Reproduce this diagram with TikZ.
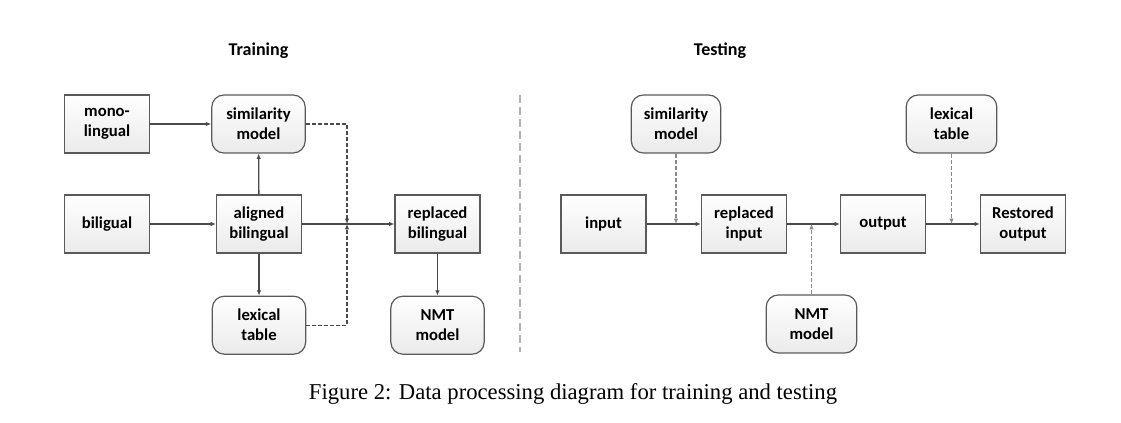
\documentclass[tikz,border=0pt]{standalone}
\usepackage{fontspec}
\setmainfont{Carlito}
\newfontfamily\captfont{Liberation Serif}
\usepackage{xcolor}
\definecolor{Frame}{HTML}{5a5a5a}
\definecolor{Wire}{HTML}{4a4a4a}
\definecolor{Hint}{HTML}{8a8a8a}
\colorlet{cFrame}{Frame}
\colorlet{cWire}{Wire}
\colorlet{cHint}{Hint}
\usepackage{tikz}
\usetikzlibrary{positioning, arrows.meta}
\tikzset{
	node distance = 31.5pt,
	line width = .75pt,
	>={Latex[length=4pt,width=3.4pt]},
	font = \bfseries\fontsize{12.5}{15}\selectfont,
	block/.style={
		draw=cFrame,
		line width=.9pt,
		top color=white,
		bottom color=gray!16,
		align=center,
		minimum width=63.75pt,
		minimum height=43.5pt,
		inner sep=1pt
	},
	store/.style={
		block,
		rounded corners=9pt,
		minimum width=70pt
	},
	heading/.style={
		font=\bfseries\fontsize{13.5}{16}\selectfont
	},
	flow/.style={
		->,
		draw=cWire,
		line width=1pt
	},
	hint/.style={
		->,
		draw=cWire,
		line width=.8pt,
		dash pattern=on 3pt off 1.5pt
	},
	soft hint/.style={
		hint,
		draw=cHint
	}
}

\begin{document}
\begin{tikzpicture}[x=.75pt, y=-.75pt]
\useasboundingbox (0,0) rectangle (1121,423);

% ---
% Training
% ---
\node[heading] (trainT) at (258.5,51) {Training};
\node[block] (mono) at (107,124) {mono-\\lingual};
\node[store] (simL) at (258.5,124) {similarity\\model};
\node[block] (bil) at (107,224) {biligual};
\node[block] (align) at (259,224) {aligned\\bilingual};
\node[block] (repl) at (437.5,224) {replaced\\bilingual};
\node[store, below=of align] (lexL) {lexical\\table};
\node[store, below=of repl] (nmtL) {NMT\\model};
\coordinate (jL) at (347,224);

\draw[flow] (mono) to (simL);
\draw[flow] (bil) to (align);
\draw[flow] (align) to (repl);
\draw[flow] (align) to (simL);
\draw[flow] (align) to (lexL);
\draw[flow] (repl) to (nmtL);
\draw[hint] (simL.east) -| (jL);
\draw[hint] (lexL.east) -| (jL);

% ---
% Divider
% ---
\draw[gray!60, line width=1.3pt, dash pattern=on 6pt off 3pt] (520,95) -- (520,352);

% ---
% Testing
% ---
\node[heading] (testT) at (720,51) {Testing};
\node[block] (input) at (603.5,224) {input};
\node[block] (replR) at (744,224) {replaced\\input};
\node[block] (output) at (883,224) {output};
\node[block] (restored) at (1023,224) {Restored\\output};
\node[store, minimum width=67pt] (simR) at (676,124) {similarity\\model};
\node[store, minimum width=68pt] (lexR) at (951.5,124) {lexical\\table};
\node[store, minimum width=68pt] (nmtR) at (811.5,324) {NMT\\model};

\foreach \a/\b in {input/replR, replR/output, output/restored} {
	\draw[flow] (\a) to (\b);
};
\draw[soft hint] (simR) to (simR |- input);
\draw[soft hint] (lexR) to (lexR |- output);
\draw[soft hint] (nmtR) to (nmtR |- replR);

% ---
% Caption
% ---
\node[font=\captfont\fontsize{17}{20}\selectfont] (caption) at (573,394) {Figure 2: Data processing diagram for training and testing};
\end{tikzpicture}
\end{document}
